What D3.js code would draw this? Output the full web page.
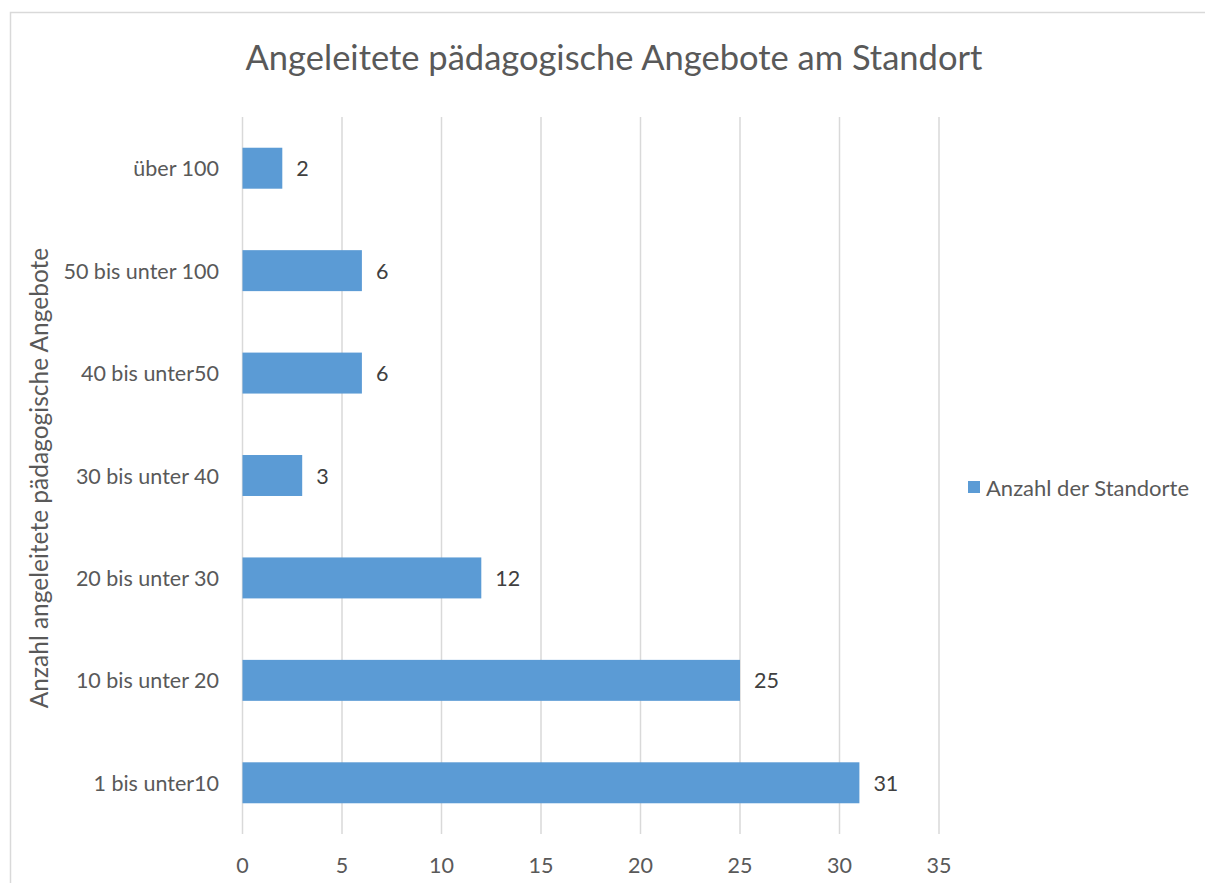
<!DOCTYPE html>
<html>
<head>
<meta charset="utf-8">
<script src="https://cdn.jsdelivr.net/npm/d3@7"></script>
<style>
  body { margin: 0; background: #fff; }
  svg { font-family: Lato, "Open Sans", sans-serif; }
</style>
</head>
<body>
<script>
// data
const categories = ["über 100", "50 bis unter 100", "40 bis unter50", "30 bis unter 40",
    "20 bis unter 30", "10 bis unter 20", "1 bis unter10"];
const values = [2, 6, 6, 3, 12, 25, 31];
const xTicks = [0, 5, 10, 15, 20, 25, 30, 35];
const seriesName = "Anzahl der Standorte";
const chartTitle = "Angeleitete pädagogische Angebote am Standort";
const yTitle = "Anzahl angeleitete pädagogische Angebote";

const W = 1205, H = 883;
const plot = { left: 242.5, right: 939, top: 117, bottom: 834 };
const textColor = "#595959";
const barColor = "#5b9bd5";
const labelSize = 21.5;

const svg = d3.select("body").append("svg")
    .attr("width", W)
    .attr("height", H);

// chart border
svg.append("rect")
    .attr("x", 10.5).attr("y", 12.5)
    .attr("width", W).attr("height", H)
    .attr("fill", "none")
    .attr("stroke", "#d9d9d9")
    .attr("stroke-width", 1.5);

const x = d3.scaleLinear().domain([0, 35]).range([plot.left, plot.right]);
const y = d3.scaleBand().domain(categories).range([plot.top, plot.bottom]).paddingInner(0.6).paddingOuter(0.3);

// gridlines
svg.append("g").selectAll("line")
    .data(xTicks)
    .enter().append("line")
    .attr("x1", d => x(d)).attr("x2", d => x(d))
    .attr("y1", plot.top).attr("y2", plot.bottom)
    .attr("stroke", "#d9d9d9")
    .attr("stroke-width", 1.5);

// x tick labels
svg.append("g").selectAll("text")
    .data(xTicks)
    .enter().append("text")
    .attr("x", d => x(d))
    .attr("y", 865)
    .attr("text-anchor", "middle")
    .attr("dominant-baseline", "central")
    .attr("fill", textColor)
    .attr("font-size", labelSize)
    .text(d => d);

// bars
const rows = categories.map((c, i) => ({ cat: c, val: values[i] }));

svg.append("g").selectAll("rect")
    .data(rows)
    .enter().append("rect")
    .attr("x", x(0))
    .attr("y", d => y(d.cat))
    .attr("width", d => x(d.val) - x(0))
    .attr("height", y.bandwidth())
    .attr("fill", barColor);

// value labels
svg.append("g").selectAll("text")
    .data(rows)
    .enter().append("text")
    .attr("x", d => x(d.val) + 14)
    .attr("y", d => y(d.cat) + y.bandwidth() / 2)
    .attr("dominant-baseline", "central")
    .attr("fill", "#404040")
    .attr("font-size", labelSize)
    .text(d => d.val);

// category labels
svg.append("g").selectAll("text")
    .data(categories)
    .enter().append("text")
    .attr("x", 219)
    .attr("y", d => y(d) + y.bandwidth() / 2)
    .attr("text-anchor", "end")
    .attr("dominant-baseline", "central")
    .attr("fill", textColor)
    .attr("font-size", labelSize)
    .text(d => d);

// title
svg.append("text")
    .attr("x", 614)
    .attr("y", 56)
    .attr("text-anchor", "middle")
    .attr("dominant-baseline", "central")
    .attr("fill", textColor)
    .attr("font-size", 34.5)
    .text(chartTitle);

// y axis title
svg.append("text")
    .attr("transform", "translate(38,478) rotate(-90)")
    .attr("text-anchor", "middle")
    .attr("dominant-baseline", "central")
    .attr("fill", textColor)
    .attr("font-size", 24.5)
    .text(yTitle);

// legend
const legend = svg.append("g").attr("transform", "translate(968,487)");
legend.append("rect")
    .attr("x", 0).attr("y", -6)
    .attr("width", 12).attr("height", 12)
    .attr("fill", barColor);
legend.append("text")
    .attr("x", 18).attr("y", 0)
    .attr("dominant-baseline", "central")
    .attr("fill", textColor)
    .attr("font-size", 22)
    .text(seriesName);
</script>
</body>
</html>
